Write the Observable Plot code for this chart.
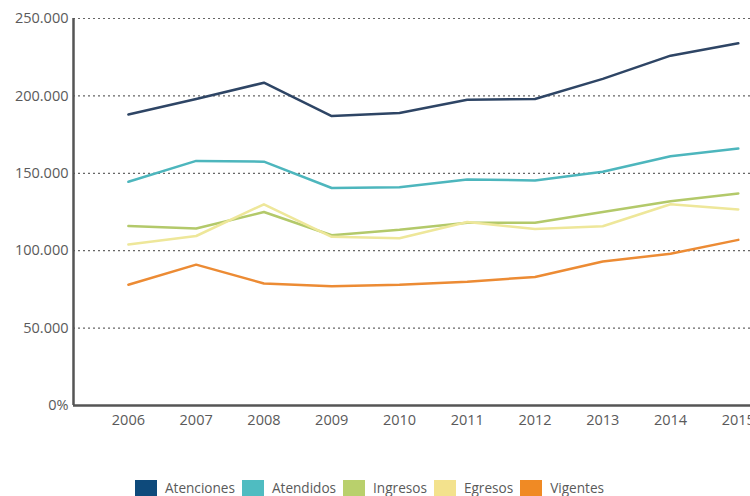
<!DOCTYPE html>
<html>
<head>
<meta charset="utf-8">
<script src="https://cdn.jsdelivr.net/npm/d3@7"></script>
<script src="https://cdn.jsdelivr.net/npm/@observablehq/plot@0.6"></script>
<style>
  html, body { margin: 0; padding: 0; background: #fff; }
  body { width: 750px; height: 496px; overflow: hidden; font-family: "Open Sans", sans-serif; }
  #legend { display: flex; justify-content: center; align-items: center; margin-top: 38px; font-size: 13.6px; color: #5a5a5a; padding-right: 4px; }
  #legend .item { display: flex; align-items: center; margin-right: 7px; }
  #legend .sw { width: 22px; height: 16px; margin-right: 8px; }
</style>
</head>
<body>
<div id="chart"></div>
<div id="legend"></div>
<script>
const years = [2006, 2007, 2008, 2009, 2010, 2011, 2012, 2013, 2014, 2015];
const series = ["Atenciones", "Atendidos", "Ingresos", "Egresos", "Vigentes"];
const atenciones = [188000, 198000, 208500, 187000, 189000, 197500, 198000, 211000, 226000, 234000];
const atendidos  = [144500, 158000, 157500, 140500, 141000, 146000, 145400, 151000, 161000, 166000];
const ingresos   = [116000, 114300, 125000, 110000, 113500, 118000, 118000, 125000, 132000, 137000];
const egresos    = [104000, 109500, 130000, 109000, 108000, 118500, 114000, 115800, 130000, 126600];
const vigentes   = [78000, 91000, 78800, 77000, 78000, 80000, 83000, 93000, 98000, 107000];
const yTicks = [0, 50000, 100000, 150000, 200000, 250000];
const lineColors = ["#2e4565", "#4db6bd", "#b3c96a", "#eee79a", "#ec8b34"];
const swatchColors = ["#0e4a7b", "#4fbcc1", "#b9d06c", "#f3e28d", "#f08a24"];

const valuesBySeries = [atenciones, atendidos, ingresos, egresos, vigentes];
const data = [];
series.forEach((s, i) => years.forEach((y, j) => data.push({series: s, year: y, value: valuesBySeries[i][j]})));

const fmt = d => d === 0 ? "0%" : d3.format(",")(d).replace(/,/g, ".");

const chart = Plot.plot({
  width: 750,
  height: 440,
  marginLeft: 73,
  marginRight: 0,
  marginTop: 18,
  marginBottom: 35,
  style: {fontFamily: "Open Sans, sans-serif", fontSize: "14px", color: "#5a5a5a", overflow: "visible"},
  x: {type: "linear", domain: [2005.19, 2015.18]},
  y: {domain: [0, 250000]},
  color: {domain: series, range: lineColors},
  marks: [
    Plot.ruleY(yTicks.filter(d => d > 0), {stroke: "#666", strokeWidth: 1.2, strokeDasharray: "2,3"}),
    Plot.axisY({ticks: yTicks, tickFormat: fmt, tickSize: 0, tickPadding: 5, fill: "#5a5a5a", label: null, fontSize: 14.5}),
    Plot.axisX({ticks: years, tickFormat: d => String(d), tickSize: 0, tickPadding: 9, fill: "#5a5a5a", label: null, fontSize: 14.5}),
    Plot.line(data, {x: "year", y: "value", z: "series", stroke: "series", strokeWidth: 2.5}),
    Plot.ruleX([2005.19], {stroke: "#555", strokeWidth: 2.5}),
    Plot.ruleY([0], {stroke: "#555", strokeWidth: 2.5})
  ]
});
document.getElementById("chart").appendChild(chart);

const legend = document.getElementById("legend");
series.forEach((s, i) => {
  const item = document.createElement("div");
  item.className = "item";
  const sw = document.createElement("div");
  sw.className = "sw";
  sw.style.background = swatchColors[i];
  const t = document.createElement("span");
  t.textContent = s;
  item.appendChild(sw);
  item.appendChild(t);
  legend.appendChild(item);
});
</script>
</body>
</html>
